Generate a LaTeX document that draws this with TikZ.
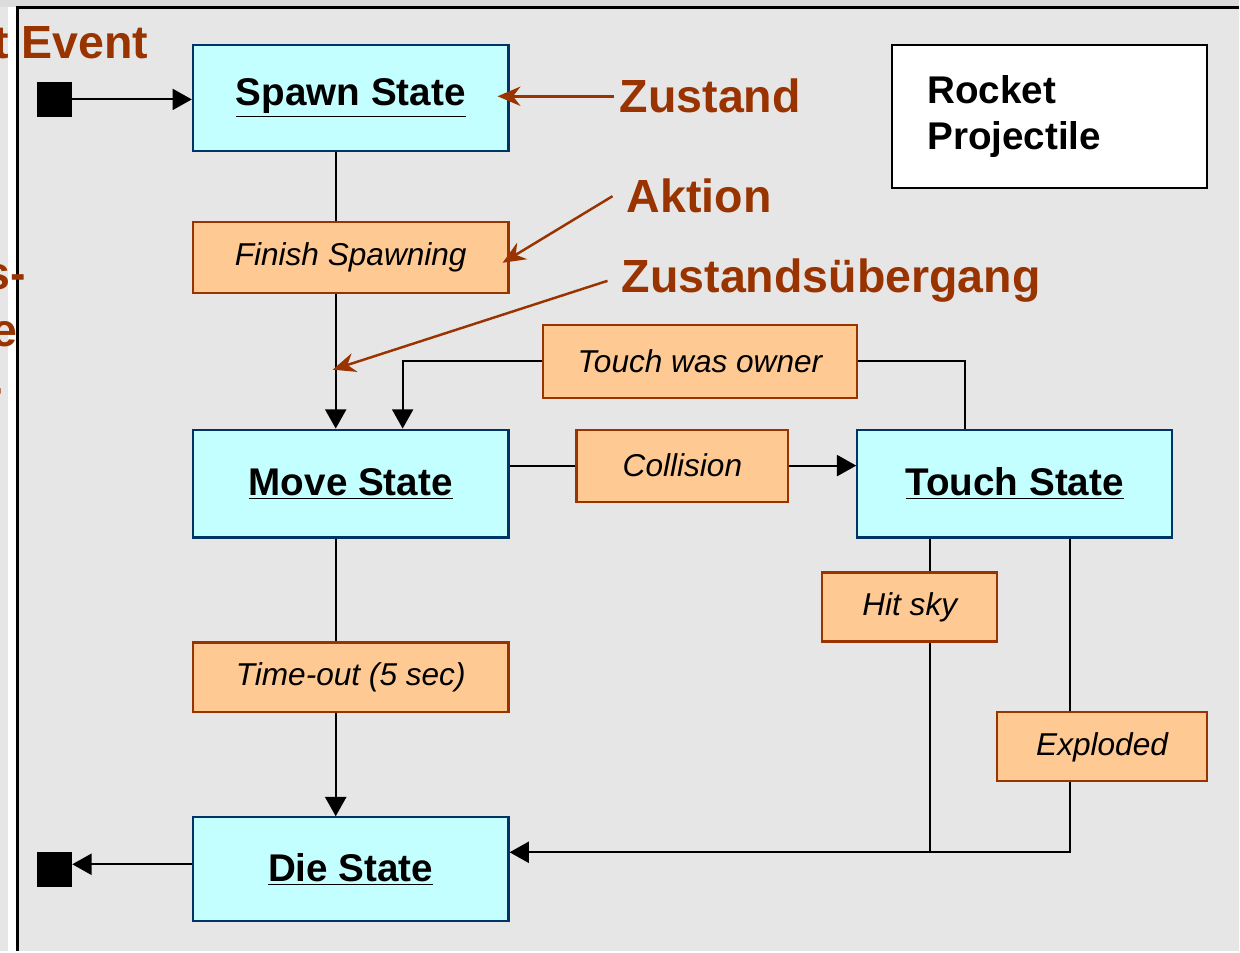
\documentclass[tikz,border=0pt]{standalone}
\usepackage{fontspec}
\setmainfont{Liberation Sans}
\usetikzlibrary{arrows.meta}

\definecolor{slidegray}{HTML}{E6E6E6}
\definecolor{edgegray}{HTML}{DCDCDC}
\definecolor{statecyan}{HTML}{C4FFFF}
\definecolor{statenavy}{HTML}{003366}
\definecolor{actionorange}{HTML}{FFC993}
\definecolor{notebrown}{HTML}{993300}

\begin{document}
\begin{tikzpicture}[x=0.02cm,y=-0.02cm]
        \tikzstyle{state}=[draw=statenavy, fill=statecyan, line width=1.2pt, minimum width=6.32cm, minimum height=2.12cm, font=\fontsize{22}{26}\selectfont\bfseries]
        \tikzstyle{action}=[draw=notebrown, fill=actionorange, line width=1.2pt, minimum height=1.42cm, font=\fontsize{18}{22}\selectfont\itshape]
        \tikzstyle{note}=[text=notebrown, inner sep=0pt, font=\fontsize{26.5}{32}\selectfont\bfseries]
        \tikzstyle{endpoint}=[fill=black, inner sep=0pt, minimum size=0.7cm]
        \tikzstyle{line}=[line width=1.2pt]
        \tikzstyle{conn}=[line width=1.2pt, -{Triangle[length=11pt,width=12pt]}]
        \tikzstyle{pointer}=[notebrown, line width=1.4pt, -{Stealth[length=13pt,width=11pt]}]
        % slide frame
        \fill[slidegray] (0,0) rectangle (1240,952);
        \fill[edgegray] (0,0) rectangle (1240,7);
        \fill[white] (8,7) rectangle (17,952);
        \draw[line] (17.5,952) -- (17.5,7.5) -- (1240,7.5);
        \useasboundingbox (0,0) rectangle (1240,952);
        % cut-off text of the slide
        \node[note, anchor=base east] (cutA) at (149,59) {t Event};
        \node[note, anchor=base east] (cutB) at (26,290) {s-};
        \node[note, anchor=base east] (cutC) at (18,347) {e};
        \node[note, anchor=base east] (cutD) at (3,404) {-};
        % states
        \node[state] (spawn) at (351,98) {\underline{Spawn State}};
        \node[state, minimum height=2.16cm] (move) at (351,484) {\underline{Move State}};
        \node[state, minimum width=6.3cm, minimum height=2.16cm] (touch) at (1015.5,484) {\underline{Touch State}};
        \node[state, minimum height=2.08cm] (die) at (351,870) {\underline{Die State}};
        \node[endpoint] (start) at (54.5,99.5) {};
        \node[endpoint] (stop) at (54.5,870.5) {};
        % actions
        \node[action, minimum width=6.32cm] (finish) at (351,257.5) {Finish Spawning};
        \node[action, minimum width=6.3cm, minimum height=1.46cm] (owner) at (700.5,361.5) {Touch was owner};
        \node[action, minimum width=4.24cm, minimum height=1.44cm] (collision) at (683,466) {Collision};
        \node[action, minimum width=6.32cm, minimum height=1.4cm] (timeout) at (351,678) {Time-out (5 sec)};
        \node[action, minimum width=3.5cm, minimum height=1.38cm] (hitsky) at (910.5,607.5) {Hit sky};
        \node[action, minimum width=4.2cm, minimum height=1.38cm] (exploded) at (1103,747.5) {Exploded};
        \node[draw, fill=white, line width=1.2pt, minimum width=6.3cm, minimum height=2.86cm, inner xsep=0.7cm, text width=4.9cm, align=left, font=\fontsize{22}{26.6}\selectfont\bfseries] (title) at (1050.5,116.5) {Rocket\\Projectile};
        % transitions
        \draw[conn] (start) -- (start -| spawn.west);
        \draw[line] ([xshift=-0.3cm]spawn.south) -- ([xshift=-0.3cm]finish.north);
        \draw[conn] ([xshift=-0.3cm]finish.south) -- ([xshift=-0.3cm]move.north);
        \draw[line] (collision.west -| move.east) -- (collision.west);
        \draw[conn] (collision.east) -- (collision.east -| touch.west);
        \draw[line] ([xshift=-0.99cm]touch.north) |- (owner.east);
        \draw[conn] (owner.west) -| ([xshift=1.04cm]move.north);
        \draw[line] ([xshift=-0.3cm]move.south) -- ([xshift=-0.3cm]timeout.north);
        \draw[conn] ([xshift=-0.3cm]timeout.south) -- ([xshift=-0.3cm]die.north);
        \draw[conn] ([yshift=0.1cm]die.west) -- ([yshift=0.1cm]die.west -| stop.east);
        \draw[line] ([xshift=0.41cm]hitsky.north |- touch.south) -- ([xshift=0.41cm]hitsky.north);
        \draw[line] ([xshift=-0.64cm]exploded.north |- touch.south) -- ([xshift=-0.64cm]exploded.north);
        \coordinate (merge) at ([xshift=0.41cm,yshift=0.34cm]hitsky.south |- die.east);
        \draw[line] ([xshift=0.41cm]hitsky.south) -- (merge);
        \draw[conn] ([xshift=-0.64cm]exploded.south) |- ([yshift=0.34cm]die.east);
        % legend labels
        \node[note, anchor=base west] (zustand) at (620,113) {Zustand};
        \node[note, anchor=base west] (aktion) at (627,213) {Aktion};
        \node[note, anchor=base west] (uebergang) at (622,293) {Zustandsübergang};
        \coordinate (arrival) at (333,370);
        \draw[pointer] ([xshift=-0.1cm]zustand.west) -- ([xshift=-0.24cm]spawn.east |- zustand.west);
        \draw[pointer] ([xshift=-0.28cm]aktion.west) -- ([xshift=-0.14cm,yshift=-0.11cm]finish.east);
        \draw[pointer] ([xshift=-0.28cm]uebergang.west) -- (arrival);
\end{tikzpicture}
\end{document}
